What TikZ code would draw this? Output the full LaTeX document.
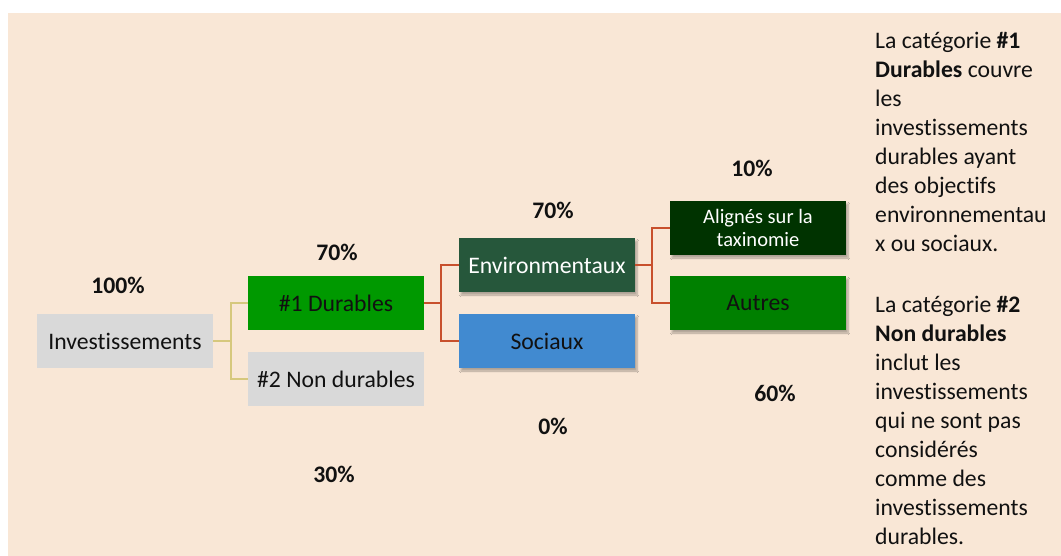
\documentclass[tikz,border=0pt]{standalone}
\usepackage{fontspec}
\setmainfont{Carlito}[Ligatures={NoCommon,NoContextual}]
\usetikzlibrary{shadows.blur}
\definecolor{bg}{HTML}{F9E7D6}
\definecolor{greyBox}{HTML}{D9D9D9}
\definecolor{durGreen}{HTML}{009900}
\definecolor{envGreen}{HTML}{26573B}
\definecolor{socBlue}{HTML}{418AD0}
\definecolor{alignGreen}{HTML}{003300}
\definecolor{autGreen}{HTML}{008000}
\definecolor{linkY}{HTML}{D6C87D}
\definecolor{linkR}{HTML}{C8502D}
\definecolor{txt}{HTML}{111111}
\begin{document}
\begin{tikzpicture}[x=1bp,y=-1bp,
  box/.style={minimum width=176bp, minimum height=54bp, inner sep=0pt, align=center,
    text=txt, font=\fontsize{23.7bp}{29bp}\selectfont},
  shbox/.style={box, blur shadow={shadow xshift=2bp, shadow yshift=-3bp, shadow blur steps=6, shadow opacity=30}},
  pct/.style={font=\fontsize{23.7bp}{29bp}\selectfont\bfseries, inner sep=0pt, text=txt},
  ylink/.style={draw=linkY, line width=1.8bp},
  rlink/.style={draw=linkR, line width=2.2bp},
  para/.style={anchor=base west, inner sep=0pt, text=txt, font=\fontsize{23.7bp}{29bp}\selectfont}]
\useasboundingbox (0,0) rectangle (1061,556);
\fill[white] (0,0) rectangle (1061,556);
\fill[bg] (8,13) rectangle (1061,556);

% level 0 and 1
\node[box, fill=greyBox] (inv) at (125,341) {Investissements};
\node[box, fill=durGreen] (dur) at (336,303) {\#1 Durables};
\node[box, fill=greyBox] (nd) at (336,379) {\#2 Non durables};
% level 2
\node[shbox, fill=envGreen, text=white] (env) at (547,265) {Environmentaux};
\node[shbox, fill=socBlue] (soc) at (547,341) {Sociaux};
% level 3
\node[shbox, fill=alignGreen, text=white, font=\fontsize{20.5bp}{23bp}\selectfont] (ali) at (758,228) {Alignés sur la\\taxinomie};
\node[shbox, fill=autGreen] (aut) at (758,303) {Autres};

% connectors
\draw[ylink] (inv.east) -- ++(18,0) |- (dur.west);
\draw[ylink] (inv.east) -- ++(18,0) |- (nd.west);
\draw[rlink] (dur.east) -- ++(17,0) |- (env.west);
\draw[rlink] (dur.east) -- ++(17,0) |- (soc.west);
\draw[rlink] (env.east) -- ++(17,0) |- (ali.west);
\draw[rlink] (env.east) -- ++(17,0) |- (aut.west);

% percentages
\node[pct] (p100) at (118,285) {100\%};
\node[pct] (p70a) at (337,252) {70\%};
\node[pct] (p30) at (334,474) {30\%};
\node[pct] (p70b) at (553,210) {70\%};
\node[pct] (p0) at (553,426) {0\%};
\node[pct] (p10) at (752,168) {10\%};
\node[pct] (p60) at (775,393) {60\%};

% explanatory text
\node[para] (t1) at (875,48.5) {\parbox[t]{185bp}{\raggedright
La catégorie \textbf{\#1}\\
\textbf{Durables} couvre\\
les\\
investissements\\
durables ayant\\
des objectifs\\
environnementau\\
x ou sociaux.}};
\node[para] (t2) at (875,312.3) {\parbox[t]{185bp}{\raggedright
La catégorie \textbf{\#2}\\
\textbf{Non durables}\\
inclut les\\
investissements\\
qui ne sont pas\\
considérés\\
comme des\\
investissements\\
durables.}};
\end{tikzpicture}
\end{document}
